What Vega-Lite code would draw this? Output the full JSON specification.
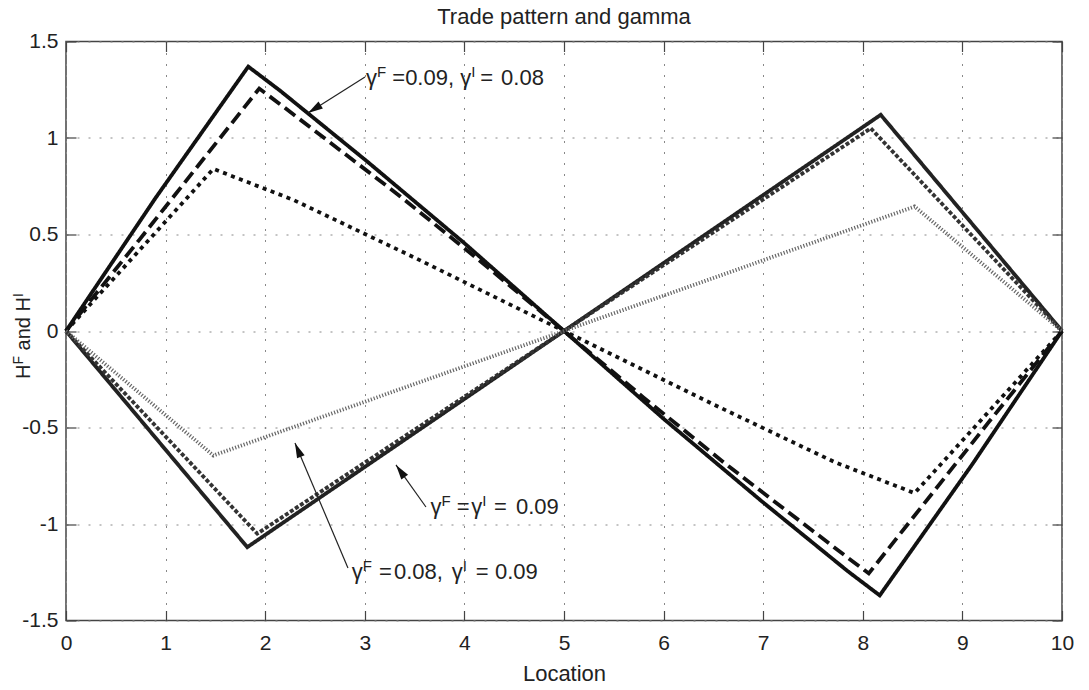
{
  "$schema": "https://vega.github.io/schema/vega-lite/v6.json",
  "width": 996,
  "height": 579,
  "autosize": {"type": "none"},
  "padding": {"left": 66, "top": 41.5, "right": 27, "bottom": 69.5},
  "background": "white",
  "config": {"view": {"stroke": "#444", "strokeWidth": 1.5}, "font": "Liberation Sans"},
  "title": {"text": "Trade pattern and gamma", "fontSize": 22, "font": "Liberation Sans", "fontWeight": "normal", "color": "#222", "offset": 2},
  "datasets": {
    "lines": [
      {"s":"A","x":0,"y":0},{"s":"A","x":0.9,"y":0.69},{"s":"A","x":1.83,"y":1.37},{"s":"A","x":2.15,"y":1.245},{"s":"A","x":3.02,"y":0.88},{"s":"A","x":4,"y":0.455},{"s":"A","x":5,"y":0},{"s":"A","x":6,"y":-0.455},{"s":"A","x":6.98,"y":-0.88},{"s":"A","x":7.85,"y":-1.245},{"s":"A","x":8.17,"y":-1.37},{"s":"A","x":9.1,"y":-0.69},{"s":"A","x":10,"y":0},
      {"s":"B","x":0,"y":0},{"s":"B","x":0.74,"y":0.475},{"s":"B","x":1.94,"y":1.256},{"s":"B","x":2.15,"y":1.175},{"s":"B","x":3.35,"y":0.7},{"s":"B","x":4.2,"y":0.345},{"s":"B","x":5,"y":0},{"s":"B","x":5.8,"y":-0.345},{"s":"B","x":6.65,"y":-0.7},{"s":"B","x":7.85,"y":-1.175},{"s":"B","x":8.06,"y":-1.256},{"s":"B","x":9.26,"y":-0.475},{"s":"B","x":10,"y":0},
      {"s":"C","x":0,"y":0},{"s":"C","x":1.48,"y":0.84},{"s":"C","x":2.28,"y":0.68},{"s":"C","x":3.5,"y":0.38},{"s":"C","x":5,"y":0},{"s":"C","x":6.5,"y":-0.38},{"s":"C","x":7.72,"y":-0.68},{"s":"C","x":8.52,"y":-0.84},{"s":"C","x":10,"y":0},
      {"s":"D","x":0,"y":0},{"s":"D","x":1.82,"y":-1.12},{"s":"D","x":5,"y":0},{"s":"D","x":8.18,"y":1.12},{"s":"D","x":10,"y":0},
      {"s":"E","x":0,"y":0},{"s":"E","x":1.92,"y":-1.05},{"s":"E","x":5,"y":0},{"s":"E","x":8.08,"y":1.05},{"s":"E","x":10,"y":0},
      {"s":"F","x":0,"y":0},{"s":"F","x":1.48,"y":-0.645},{"s":"F","x":5,"y":0},{"s":"F","x":8.52,"y":0.645},{"s":"F","x":10,"y":0}
    ],
    "annot": [
      {"x":3.012,"y":1.2746,"t":"γ","k":"m"},
      {"x":3.123,"y":1.2746,"t":"F","k":"s"},
      {"x":3.276,"y":1.2746,"t":"=0.09, γ","k":"m"},
      {"x":4.068,"y":1.2746,"t":"I","k":"s"},
      {"x":4.16,"y":1.2746,"t":"=","k":"m"},
      {"x":4.368,"y":1.2746,"t":"0.08","k":"m"},
      {"x":3.66,"y":-0.948,"t":"γ","k":"m"},
      {"x":3.77,"y":-0.948,"t":"F","k":"s"},
      {"x":3.923,"y":-0.948,"t":"=","k":"m"},
      {"x":4.07,"y":-0.948,"t":"γ","k":"m"},
      {"x":4.18,"y":-0.948,"t":"I","k":"s"},
      {"x":4.297,"y":-0.948,"t":"=","k":"m"},
      {"x":4.518,"y":-0.948,"t":"0.09","k":"m"},
      {"x":2.869,"y":-1.285,"t":"γ","k":"m"},
      {"x":2.979,"y":-1.285,"t":"F","k":"s"},
      {"x":3.143,"y":-1.285,"t":"=","k":"m"},
      {"x":3.293,"y":-1.285,"t":"0.08,","k":"m"},
      {"x":3.873,"y":-1.285,"t":"γ","k":"m"},
      {"x":3.983,"y":-1.285,"t":"I","k":"s"},
      {"x":4.113,"y":-1.285,"t":"=","k":"m"},
      {"x":4.307,"y":-1.285,"t":"0.09","k":"m"}
    ],
    "ytitle": [
      {"x":-0.361,"y":-0.2487,"t":"H","k":"m"},
      {"x":-0.361,"y":-0.174,"t":"F","k":"s"},
      {"x":-0.361,"y":-0.1005,"t":"and H","k":"m"},
      {"x":-0.361,"y":0.176,"t":"I","k":"s"}
    ],
    "arrows": [
      {"id":1,"x":2.43,"y":1.13,"x2":3.002,"y2":1.316},
      {"id":2,"x":3.313,"y":-0.694,"x2":3.614,"y2":-0.912},
      {"id":3,"x":2.299,"y":-0.58,"x2":2.831,"y2":-1.228}
    ]
  },
  "resolve": {"axis": {"x": "independent", "y": "independent"}},
  "layer": [
    {
      "data": {"name": "lines"},
      "mark": {"type": "line", "strokeCap": "butt", "strokeJoin": "miter"},
      "encoding": {
        "x": {"field": "x", "type": "quantitative", "scale": {"domain": [0, 10], "nice": false, "zero": false},
          "axis": {"orient": "bottom", "values": [0,1,2,3,4,5,6,7,8,9,10], "title": "Location", "titleFontSize": 22, "titleFont": "Liberation Sans", "titleFontWeight": "normal", "titleColor": "#222", "titlePadding": 10,
            "labelFontSize": 21, "labelFont": "Liberation Sans", "labelColor": "#222", "labelPadding": 22, "labelFlush": false, "labelOverlap": false, "labelExpr": "'' + datum.value",
            "tickSize": -10, "tickColor": "#444", "tickWidth": 1.2, "domain": false, "grid": true, "gridColor": "#888", "gridDash": [2, 9], "gridWidth": 1}},
        "y": {"field": "y", "type": "quantitative", "scale": {"domain": [-1.5, 1.5], "nice": false, "zero": false},
          "axis": {"orient": "left", "values": [-1.5,-1,-0.5,0,0.5,1,1.5], "title": null,
            "labelFontSize": 21, "labelFont": "Liberation Sans", "labelColor": "#222", "labelPadding": 18, "labelFlush": false, "labelOverlap": false, "labelExpr": "'' + datum.value",
            "tickSize": -10, "tickColor": "#444", "tickWidth": 1.2, "domain": false, "grid": true, "gridColor": "#888", "gridDash": [2, 9], "gridWidth": 1}},
        "color": {"field": "s", "type": "nominal", "scale": {"domain": ["A","B","C","D","E","F"], "range": ["#111","#111","#111","#222","#333","#666"]}, "legend": null},
        "strokeDash": {"field": "s", "type": "nominal", "scale": {"domain": ["A","B","C","D","E","F"], "range": [[1,0],[13,6],[4,4.5],[1,0],[4,2],[1.2,1.8]]}, "legend": null},
        "strokeWidth": {"field": "s", "type": "nominal", "scale": {"domain": ["A","B","C","D","E","F"], "range": [3.8,3.8,4.2,1.2,1,0.9]}, "legend": null}
      }
    },
    {
      "data": {"name": "lines"},
      "mark": {"type": "line", "strokeOpacity": 0},
      "encoding": {
        "x": {"field": "x", "type": "quantitative", "scale": {"domain": [0, 10], "nice": false, "zero": false},
          "axis": {"orient": "top", "values": [0,1,2,3,4,5,6,7,8,9,10], "title": null, "labels": false, "tickSize": -10, "tickColor": "#444", "tickWidth": 1.2, "domain": false, "grid": false}},
        "y": {"field": "y", "type": "quantitative", "scale": {"domain": [-1.5, 1.5], "nice": false, "zero": false},
          "axis": {"orient": "right", "values": [-1.5,-1,-0.5,0,0.5,1,1.5], "title": null, "labels": false, "tickSize": -10, "tickColor": "#444", "tickWidth": 1.2, "domain": false, "grid": false}},
        "detail": {"field": "s"}
      }
    },
    {
      "data": {"name": "arrows"},
      "mark": {"type": "rule", "color": "#222", "strokeWidth": 1.2},
      "encoding": {
        "x": {"field": "x", "type": "quantitative", "axis": null},
        "y": {"field": "y", "type": "quantitative", "axis": null},
        "x2": {"field": "x2"},
        "y2": {"field": "y2"}
      }
    },
    {
      "data": {"name": "arrows"},
      "transform": [{"filter": "datum.id == 1"}],
      "mark": {"type": "point", "shape": "M0,0L0.55,2L-0.55,2Z", "size": 225, "filled": true, "opacity": 1, "color": "#111", "angle": 237.7},
      "encoding": {
        "x": {"field": "x", "type": "quantitative", "axis": null},
        "y": {"field": "y", "type": "quantitative", "axis": null}
      }
    },
    {
      "data": {"name": "arrows"},
      "transform": [{"filter": "datum.id == 2"}],
      "mark": {"type": "point", "shape": "M0,0L0.55,2L-0.55,2Z", "size": 225, "filled": true, "opacity": 1, "color": "#111", "angle": 324.5},
      "encoding": {
        "x": {"field": "x", "type": "quantitative", "axis": null},
        "y": {"field": "y", "type": "quantitative", "axis": null}
      }
    },
    {
      "data": {"name": "arrows"},
      "transform": [{"filter": "datum.id == 3"}],
      "mark": {"type": "point", "shape": "M0,0L0.55,2L-0.55,2Z", "size": 225, "filled": true, "opacity": 1, "color": "#111", "angle": 337},
      "encoding": {
        "x": {"field": "x", "type": "quantitative", "axis": null},
        "y": {"field": "y", "type": "quantitative", "axis": null}
      }
    },
    {
      "data": {"name": "annot"},
      "transform": [{"filter": "datum.k == 'm'"}],
      "mark": {"type": "text", "align": "left", "baseline": "alphabetic", "fontSize": 22, "font": "Liberation Sans", "color": "#222"},
      "encoding": {
        "x": {"field": "x", "type": "quantitative", "axis": null},
        "y": {"field": "y", "type": "quantitative", "axis": null},
        "text": {"field": "t"}
      }
    },
    {
      "data": {"name": "annot"},
      "transform": [{"filter": "datum.k == 's'"}],
      "mark": {"type": "text", "align": "left", "baseline": "alphabetic", "fontSize": 15, "dy": -8, "font": "Liberation Sans", "color": "#222"},
      "encoding": {
        "x": {"field": "x", "type": "quantitative", "axis": null},
        "y": {"field": "y", "type": "quantitative", "axis": null},
        "text": {"field": "t"}
      }
    },
    {
      "data": {"name": "ytitle"},
      "transform": [{"filter": "datum.k == 'm'"}],
      "mark": {"type": "text", "align": "left", "baseline": "alphabetic", "angle": 270, "fontSize": 20, "font": "Liberation Sans", "color": "#222"},
      "encoding": {
        "x": {"field": "x", "type": "quantitative", "axis": null},
        "y": {"field": "y", "type": "quantitative", "axis": null},
        "text": {"field": "t"}
      }
    },
    {
      "data": {"name": "ytitle"},
      "transform": [{"filter": "datum.k == 's'"}],
      "mark": {"type": "text", "align": "left", "baseline": "alphabetic", "angle": 270, "fontSize": 14, "dy": -7, "font": "Liberation Sans", "color": "#222"},
      "encoding": {
        "x": {"field": "x", "type": "quantitative", "axis": null},
        "y": {"field": "y", "type": "quantitative", "axis": null},
        "text": {"field": "t"}
      }
    }
  ]
}
